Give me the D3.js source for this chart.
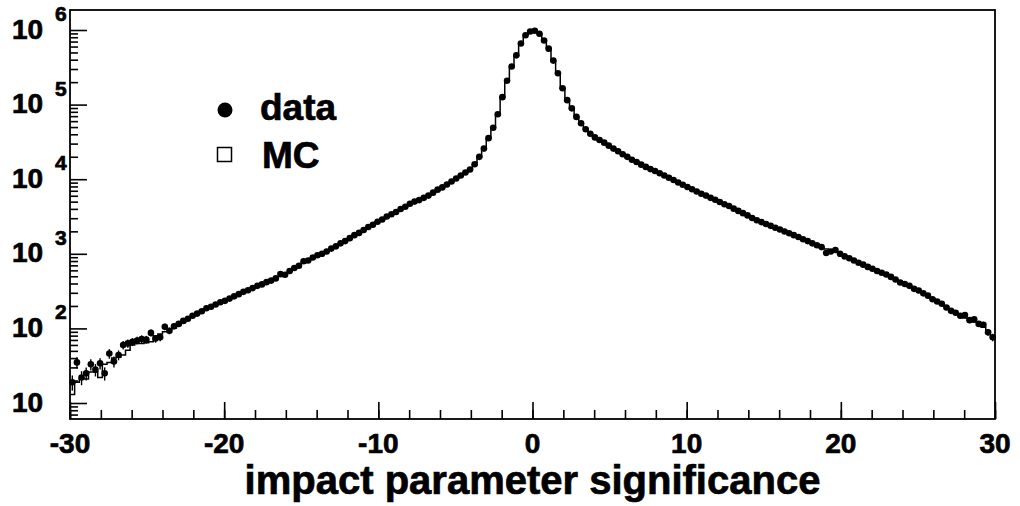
<!DOCTYPE html>
<html>
<head>
<meta charset="utf-8">
<script src="https://cdn.jsdelivr.net/npm/d3@7"></script>
<style>
  body { margin: 0; background: #fff; }
  svg { display: block; }
  text { font-family: "Liberation Sans", Arial, Helvetica, sans-serif; font-weight: bold; fill: #000; stroke: #000; stroke-width: 0.7; }
</style>
</head>
<body>
<svg id="chart" width="1020" height="506"></svg>
<script>
// Histogram binning: 200 bins of width 0.3 from -30 to 30
const binLow = -30;
const binWidth = 0.3;

// Measured candidate counts per bin
const dataCounts = [
  19, 35, 22, 25, 33, 28, 34, 25, 46, 36,
  44, 60, 63, 66, 69, 72, 71, 87, 73, 76,
  105, 93, 107, 115, 126, 135, 148, 158, 170, 186,
  195, 209, 224, 234, 251, 269, 288, 309, 324, 347,
  372, 389, 417, 437, 468, 537, 525, 589, 646, 692,
  794, 813, 891, 955, 1000, 1072, 1175, 1259, 1380, 1479,
  1622, 1778, 1905, 2089, 2291, 2455, 2692, 2884, 3162, 3388,
  3631, 3981, 4266, 4677, 5012, 5248, 5623, 6026, 6607, 7244,
  7762, 8511, 9333, 10230, 11220, 12300, 13490, 15850, 19950, 25700,
  35480, 48980, 74130, 125900, 208900, 323600, 457100, 660700, 851100, 955000,
  977200, 891300, 724400, 562300, 389000, 263000, 166000, 114800, 89130, 68390,
  56230, 46770, 40740, 36310, 33500, 30900, 28180, 25700, 23710, 21630,
  19950, 18200, 16980, 15670, 14620, 13650, 12880, 12020, 11220, 10470,
  9772, 9016, 8414, 7852, 7328, 6839, 6383, 6026, 5623, 5309,
  4955, 4624, 4365, 4027, 3758, 3508, 3273, 3020, 2818, 2661,
  2512, 2371, 2239, 2113, 1995, 1884, 1778, 1679, 1567, 1479,
  1380, 1303, 1230, 1023, 1072, 1122, 1000, 923, 871, 813,
  759, 716, 668, 631, 589, 556, 528, 490, 452, 412,
  394, 372, 339, 322, 295, 275, 246, 229, 214, 191,
  172, 162, 148, 151, 129, 132, 115, 112, 89, 76
];

// Simulated (MC) expectation per bin
const mcCounts = [
  13, 19, 21, 21, 26, 26, 22, 33, 35, 40,
  41, 44, 51, 60, 63, 63, 64, 66, 80, 84,
  90, 96, 101, 110, 120, 133, 146, 158, 171, 184,
  196, 210, 222, 236, 252, 270, 289, 307, 325, 346,
  370, 391, 414, 440, 470, 498, 530, 582, 640, 700,
  760, 812, 880, 950, 1005, 1080, 1170, 1262, 1375, 1483,
  1618, 1782, 1910, 2082, 2296, 2460, 2680, 2890, 3150, 3395,
  3640, 3970, 4280, 4660, 5020, 5260, 5610, 6040, 6590, 7260,
  7750, 8530, 9310, 10250, 11190, 12340, 13450, 15900, 19880, 25800,
  35300, 49200, 73800, 126500, 208000, 324500, 456000, 662000, 849000, 957000,
  975000, 893000, 722000, 564000, 387000, 264000, 165500, 115200, 88800, 68600,
  56000, 46900, 40600, 36400, 33400, 30950, 28100, 25750, 23650, 21700,
  19900, 18250, 16950, 15700, 14600, 13680, 12850, 12040, 11200, 10490,
  9750, 9030, 8400, 7870, 7310, 6850, 6370, 6040, 5610, 5320,
  4940, 4640, 4350, 4040, 3745, 3520, 3260, 3030, 2810, 2670,
  2505, 2380, 2230, 2120, 1990, 1890, 1770, 1685, 1560, 1485,
  1375, 1310, 1225, 1160, 1100, 1050, 990, 930, 865, 818,
  762, 712, 672, 628, 592, 553, 520, 492, 450, 418,
  392, 366, 341, 316, 296, 272, 250, 230, 210, 193,
  176, 160, 146, 138, 128, 122, 112, 104, 92, 80
];

const xTickValues = [-30, -20, -10, 0, 10, 20, 30];
const xMinorTickValues = d3.range(-30, 30.001, 2);
const yDecadeExponents = [1, 2, 3, 4, 5, 6];
const legendLabels = ["data", "MC"];
const xAxisTitle = "impact parameter significance";

const svg = d3.select("#chart");
const plot = { left: 70, right: 995, top: 10, bottom: 419 };

const x = d3.scaleLinear().domain([-30, 30]).range([plot.left, plot.right]);
const y = d3.scaleLog().domain([6.104, 1.854e6]).range([plot.bottom, plot.top]);

// Frame
svg.append("rect")
  .attr("x", plot.left).attr("y", plot.top)
  .attr("width", plot.right - plot.left).attr("height", plot.bottom - plot.top)
  .attr("fill", "none").attr("stroke", "#000").attr("stroke-width", 1.8);

// X axis ticks (pointing into the frame)
const xMajor = d3.axisBottom(x).tickValues(xTickValues).tickSizeInner(-17).tickSizeOuter(0).tickFormat("");
const xMinor = d3.axisBottom(x).tickValues(xMinorTickValues).tickSizeInner(-9).tickSizeOuter(0).tickFormat("");
[xMinor, xMajor].forEach(ax => {
  const g = svg.append("g").attr("transform", `translate(0,${plot.bottom})`).call(ax);
  g.select(".domain").remove();
  g.selectAll("line").attr("stroke", "#000").attr("stroke-width", 1.6);
});

// Y axis ticks: decades long, intermediate values short
const yMajorVals = yDecadeExponents.map(e => Math.pow(10, e));
const yMinorVals = [];
for (let e = 0; e <= 6; e++) {
  for (let k = 2; k <= 9; k++) {
    const v = k * Math.pow(10, e);
    if (v >= 6.104 && v <= 1.854e6) yMinorVals.push(v);
  }
}
const yMajor = d3.axisLeft(y).tickValues(yMajorVals).tickSizeInner(-17).tickSizeOuter(0).tickFormat("");
const yMinor = d3.axisLeft(y).tickValues(yMinorVals).tickSizeInner(-8).tickSizeOuter(0).tickFormat("");
[yMinor, yMajor].forEach(ax => {
  const g = svg.append("g").attr("transform", `translate(${plot.left},0)`).call(ax);
  g.select(".domain").remove();
  g.selectAll("line").attr("stroke", "#000").attr("stroke-width", 1.6);
});

// X tick labels
svg.append("g").selectAll("text")
  .data(xTickValues).join("text")
  .attr("x", d => x(d))
  .attr("y", 453)
  .attr("text-anchor", "middle")
  .attr("font-size", 28)
  .text(d => d);

// Y tick labels as 10 with a raised exponent
const yLab = svg.append("g");
yDecadeExponents.forEach(e => {
  const ty = y(Math.pow(10, e));
  yLab.append("text").attr("x", 12).attr("y", ty + 8.5).attr("font-size", 28).text("10");
  if (e > 1) {
    yLab.append("text").attr("x", 55).attr("y", ty - 9).attr("font-size", 21).text(e);
  }
});

// X axis title
svg.append("text")
  .attr("x", (plot.left + plot.right) / 2)
  .attr("y", 494)
  .attr("text-anchor", "middle")
  .attr("font-size", 40)
  .text(xAxisTitle);

// MC histogram as a step line
const edges = d3.range(mcCounts.length + 1).map(i => binLow + i * binWidth);
const stepPts = mcCounts.map((c, i) => [edges[i], c]);
stepPts.push([edges[mcCounts.length], mcCounts[mcCounts.length - 1]]);
svg.append("path")
  .attr("d", d3.line().x(d => x(d[0])).y(d => y(d[1])).curve(d3.curveStepAfter)(stepPts))
  .attr("fill", "none").attr("stroke", "#000").attr("stroke-width", 1.5);

// Data points with Poisson error bars
const pts = dataCounts.map((c, i) => ({ xc: binLow + (i + 0.5) * binWidth, c }));
svg.append("g").selectAll("line")
  .data(pts).join("line")
  .attr("x1", d => x(d.xc)).attr("x2", d => x(d.xc))
  .attr("y1", d => y(Math.max(d.c - Math.sqrt(d.c), 6.2)))
  .attr("y2", d => y(d.c + Math.sqrt(d.c)))
  .attr("stroke", "#000").attr("stroke-width", 1.4);
svg.append("g").selectAll("circle")
  .data(pts).join("circle")
  .attr("cx", d => x(d.xc)).attr("cy", d => y(d.c))
  .attr("r", 3.3).attr("fill", "#000");

// Legend
const leg = svg.append("g");
leg.append("circle").attr("cx", 225).attr("cy", 110).attr("r", 7.5).attr("fill", "#000");
leg.append("text").attr("x", 260).attr("y", 120).attr("font-size", 37).text(legendLabels[0]);
leg.append("rect").attr("x", 217.5).attr("y", 147.5).attr("width", 14).attr("height", 14)
  .attr("fill", "#fff").attr("stroke", "#000").attr("stroke-width", 1.5);
leg.append("text").attr("x", 262).attr("y", 168).attr("font-size", 37).text(legendLabels[1]);
</script>
</body>
</html>
